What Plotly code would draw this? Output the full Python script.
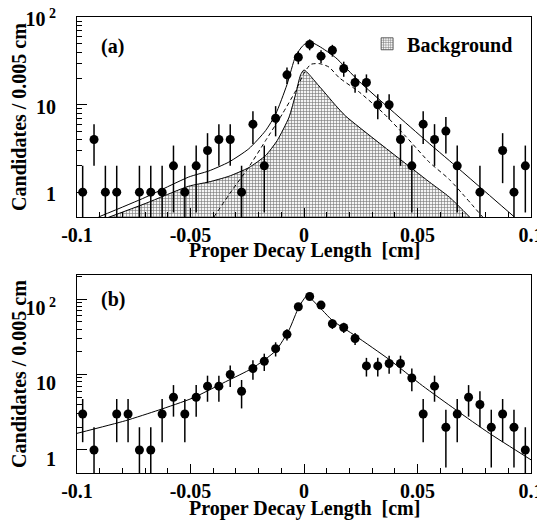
import numpy as np
import plotly.graph_objects as go

# ---------------- data ----------------
bin_centers = [-0.0975, -0.0925, -0.0875, -0.0825, -0.0775, -0.0725, -0.0675, -0.0625,
               -0.0575, -0.0525, -0.0475, -0.0425, -0.0375, -0.0325, -0.0275, -0.0225,
               -0.0175, -0.0125, -0.0075, -0.0025, 0.0025, 0.0075, 0.0125, 0.0175,
               0.0225, 0.0275, 0.0325, 0.0375, 0.0425, 0.0475, 0.0525, 0.0575,
               0.0625, 0.0675, 0.0725, 0.0775, 0.0825, 0.0875, 0.0925, 0.0975]

counts_a = [1, 4, 1, 1, 0, 1, 1, 1, 2, 1, 2, 3, 4, 4, 1, 6, 2, 7, 22, 35,
            49, 36, 42, 26, 18, 18, 10, 10, 4, 2, 6, 4, 5, 2, 0, 1, 0, 3, 1, 2]

counts_b = [3, 1, 0, 3, 3, 1, 1, 3, 5, 3, 5, 7, 7, 10, 6, 12, 15, 22, 34, 79,
            108, 83, 47, 42, 30, 13, 13, 14, 14, 9, 3, 7, 2, 3, 5, 4, 2, 3, 2, 1]

# fit curves, panel (a)
total_a_x = [-0.0905, -0.070, -0.0508, -0.0419, -0.0331, -0.0243, -0.0169, -0.0125,
             -0.0075, -0.0037, -0.0007, 0.0022, 0.0066, 0.014, 0.0243, 0.0552, 0.064, 0.0927]
total_a_y = [0.52, 0.87, 1.49, 1.75, 2.21, 3.14, 5.07, 7.8,
             17.0, 36.0, 46.8, 53.0, 46.8, 34.5, 18.5, 3.6, 2.3, 0.52]

bkg_a_x = [-0.0875, -0.070, -0.0508, -0.0419, -0.0331, -0.0243, -0.0169, -0.0118,
           -0.0066, -0.0037, -0.0015, 0.0, 0.0066, 0.014, 0.0184, 0.0552, 0.064, 0.0736]
bkg_a_y = [0.50, 0.74, 1.17, 1.31, 1.52, 1.91, 2.63, 3.9,
           7.2, 13.2, 22.0, 25.0, 16.4, 9.8, 7.4, 1.31, 0.88, 0.50]

sig_a_x = [-0.0397, -0.0317, -0.0243, -0.0169, -0.0096, -0.0037, 0.0, 0.003, 0.007,
           0.011, 0.0155, 0.0243, 0.035, 0.045, 0.0552, 0.064, 0.0787]
sig_a_y = [0.52, 1.05, 1.94, 3.9, 7.8, 14.4, 23.0, 29.0, 29.5,
           27.0, 20.4, 14.0, 8.0, 4.3, 2.2, 1.4, 0.52]

# fit curve panel (b)
fit_b_x = [-0.1, -0.0787, -0.064, -0.0493, -0.0346, -0.0228, -0.0125, -0.0066, -0.0022,
           0.0015, 0.0037, 0.0081, 0.0125, 0.0228, 0.0375, 0.0522, 0.0669, 0.0817, 0.1]
fit_b_y = [1.66, 2.44, 3.38, 4.84, 8.0, 12.1, 20.6, 38.9, 79.0,
           112.0, 97.0, 71.0, 52.0, 32.3, 15.8, 7.1, 3.4, 1.66, 0.74]

y_tickvals = [1, 10, 100]
y_ticktext = ["1", "10", "10<sup> 2</sup>"]
x_tickvals = [-0.1, -0.05, 0, 0.05, 0.1]
x_ticktext = ["-0.1", "-0.05", "0", "0.05", "0.1"]

FONT = "Liberation Serif"
PATTERN = dict(shape="+", size=3, solidity=0.35, fgcolor="#747474", bgcolor="#f4f4f4")


def pts(counts):
    xs, ys, ep, em = [], [], [], []
    for x, n in zip(bin_centers, counts):
        if n > 0:
            e = float(np.sqrt(n))
            xs.append(x)
            ys.append(n)
            ep.append(e)
            em.append(min(e, n * 0.999))
    return xs, ys, ep, em


fig = go.Figure()

# ----- panel (a) -----
xa, ya, epa, ema = pts(counts_a)
fig.add_trace(go.Scatter(
    x=bkg_a_x + [bkg_a_x[-1], bkg_a_x[0]],
    y=bkg_a_y + [0.2, 0.2],
    mode="lines", fill="toself", line=dict(width=0, color="rgba(0,0,0,0)"),
    fillcolor="white", fillpattern=PATTERN,
    showlegend=False, xaxis="x", yaxis="y", hoverinfo="skip"))
# legend swatch (bar legend icon is a small square)
fig.add_trace(go.Bar(x=[None], y=[None], name="Background",
                     marker=dict(color="white", line=dict(color="#444", width=0.8), pattern=PATTERN),
                     showlegend=True, xaxis="x", yaxis="y"))
fig.add_trace(go.Scatter(x=bkg_a_x, y=bkg_a_y, mode="lines", line=dict(color="black", width=1, shape="spline", smoothing=0.6),
                         showlegend=False, xaxis="x", yaxis="y"))
fig.add_trace(go.Scatter(x=sig_a_x, y=sig_a_y, mode="lines", line=dict(color="black", width=1, dash="4px,3px", shape="spline", smoothing=0.6),
                         showlegend=False, xaxis="x", yaxis="y"))
fig.add_trace(go.Scatter(x=total_a_x, y=total_a_y, mode="lines", line=dict(color="black", width=1, shape="spline", smoothing=0.6),
                         showlegend=False, xaxis="x", yaxis="y"))
fig.add_trace(go.Scatter(x=xa, y=ya, mode="markers", marker=dict(color="black", size=9, symbol="circle"),
                         error_y=dict(type="data", array=epa, arrayminus=ema, symmetric=False, width=0, thickness=1.5, color="black"),
                         showlegend=False, xaxis="x", yaxis="y"))

# ----- panel (b) -----
xb, yb, epb, emb = pts(counts_b)
fig.add_trace(go.Scatter(x=fit_b_x, y=fit_b_y, mode="lines", line=dict(color="black", width=1, shape="spline", smoothing=0.6),
                         showlegend=False, xaxis="x2", yaxis="y2"))
fig.add_trace(go.Scatter(x=xb, y=yb, mode="markers", marker=dict(color="black", size=9, symbol="circle"),
                         error_y=dict(type="data", array=epb, arrayminus=emb, symmetric=False, width=0, thickness=1.5, color="black"),
                         showlegend=False, xaxis="x2", yaxis="y2"))

tickfont = dict(family=FONT, size=20, color="black", weight="bold")

xcommon = dict(range=[-0.1, 0.1], tickvals=x_tickvals, ticktext=x_ticktext, ticks="inside", ticklen=9,
               tickcolor="black", showline=True, linecolor="black", linewidth=1, mirror=True,
               showgrid=False, zeroline=False, tickfont=tickfont, ticklabelstandoff=0, automargin=False,
               ticklabeloverflow="allow",
               minor=dict(ticks="inside", ticklen=5, dtick=0.01, tickcolor="black", showgrid=False))
minor_y = [2, 3, 4, 5, 6, 7, 8, 9, 20, 30, 40, 50, 60, 70, 80, 90, 200]
ycommon = dict(type="log", tickvals=y_tickvals, ticktext=y_ticktext, ticks="inside", ticklen=10,
               tickcolor="black", showline=True, linecolor="black", linewidth=1, mirror=True,
               showgrid=False, zeroline=False, tickfont=tickfont, ticklabelstandoff=16, automargin=False,
               ticklabeloverflow="allow",
               minor=dict(ticks="inside", ticklen=5, tickvals=minor_y, tickcolor="black", showgrid=False))

# the page body adds an 8px offset, so the figure is 8px smaller and shifted
fig.update_layout(
    template="none",
    width=537, height=515,
    margin=dict(l=69, r=14, t=9, b=50),
    paper_bgcolor="white", plot_bgcolor="white",
    xaxis=dict(domain=[0, 1], anchor="y", **xcommon),
    yaxis=dict(domain=[0.5614, 1], anchor="x", range=[np.log10(0.52), 2.004], ticklabelshift=2, **ycommon),
    xaxis2=dict(domain=[0, 1], anchor="y2", **xcommon),
    yaxis2=dict(domain=[0, 0.4342], anchor="x2", range=[-0.305, 2.318], ticklabelshift=9, **ycommon),
    legend=dict(x=0.639, y=0.984, xanchor="left", yanchor="top", bgcolor="rgba(0,0,0,0)",
                font=dict(family=FONT, size=20, color="black", weight="bold")),
    font=dict(family=FONT, color="black"),
    showlegend=True,
)

tfont = dict(family=FONT, size=20, color="black", weight="bold")
ann = [
    dict(text="(a)", x=0.048, y=0.855, xref="x domain", yref="y domain", xanchor="left", yanchor="middle", showarrow=False, font=tfont),
    dict(text="(b)", x=0.048, y=0.874, xref="x2 domain", yref="y2 domain", xanchor="left", yanchor="middle", showarrow=False, font=tfont),
    dict(text="Proper Decay Length  [cm]", x=0.5, y=-0.165, xref="x domain", yref="y domain", xanchor="center", yanchor="middle", showarrow=False, font=tfont),
    dict(text="Proper Decay Length  [cm]", x=0.5, y=-0.177, xref="x2 domain", yref="y2 domain", xanchor="center", yanchor="middle", showarrow=False, font=tfont),
    dict(text="Candidates / 0.005 cm", x=-0.128, y=0.5, xref="x domain", yref="y domain", xanchor="center", yanchor="middle", textangle=-90, showarrow=False, font=tfont),
    dict(text="Candidates / 0.005 cm", x=-0.128, y=0.5, xref="x2 domain", yref="y2 domain", xanchor="center", yanchor="middle", textangle=-90, showarrow=False, font=tfont),
]
fig.update_layout(annotations=ann)

fig.write_html("out.html")
